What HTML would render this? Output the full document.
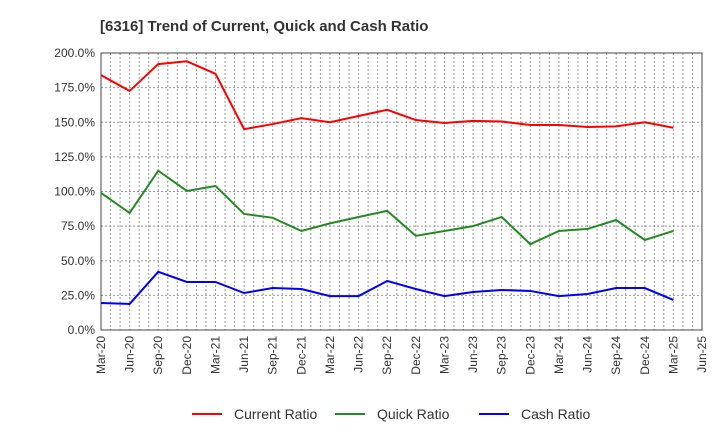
<!DOCTYPE html>
<html><head><meta charset="utf-8"><style>
body{margin:0;background:#fff;font-family:"Liberation Sans",sans-serif}
</style></head><body>
<svg id="chart" width="720" height="440" xmlns="http://www.w3.org/2000/svg" font-family="Liberation Sans, sans-serif">
<text x="100" y="31" font-size="15" font-weight="bold" fill="#333">[6316]  Trend of Current, Quick and Cash Ratio</text>
<g id="grid"></g><g id="axes"></g><g id="series"></g><g id="legend"></g>
</svg>
<script>
const xLabels=["Mar-20","Jun-20","Sep-20","Dec-20","Mar-21","Jun-21","Sep-21","Dec-21","Mar-22","Jun-22","Sep-22","Dec-22","Mar-23","Jun-23","Sep-23","Dec-23","Mar-24","Jun-24","Sep-24","Dec-24","Mar-25","Jun-25"];
const yTicks=[0,25,50,75,100,125,150,175,200];
const currentRatio=[184,172.6,192,194,185,145,148.7,153,150,154.5,159,151.6,149.5,151,150.5,148,148,146.6,147,150,146];
const quickRatio=[99,84.5,115,100.4,104,83.8,81,71.5,77,81.6,86,68,71.5,75,81.6,62,71.5,73,79.4,65,71.5];
const cashRatio=[19.5,18.8,42,34.7,34.7,26.7,30.3,29.6,24.5,24.5,35.4,29.6,24.5,27.4,28.9,28.2,24.5,26,30.3,30.3,21.7];
const L=101,R=702,T=53,B=330,NS="http://www.w3.org/2000/svg";
const months=63;
const xm=m=>L+(R-L)*m/months;
const xq=i=>xm(i*3);
const y=v=>B-(B-T)*v/200;
function mk(tag,attrs,parent){const e=document.createElementNS(NS,tag);for(const k in attrs)e.setAttribute(k,attrs[k]);document.getElementById(parent).appendChild(e);return e;}
for(let m=1;m<months;m++){const e=mk('line',{x1:xm(m),x2:xm(m),y1:T,y2:B,stroke:'#999','stroke-dasharray':'2,2','stroke-width':1},'grid');

}
yTicks.forEach(v=>{const g=mk('line',{x1:L,x2:R,y1:y(v),y2:y(v),stroke:'#999','stroke-dasharray':'2,2','stroke-width':1},'grid');


const t=mk('text',{x:L-6,y:y(v)+4,'text-anchor':'end','font-size':12,fill:'#333'},'axes');t.textContent=v.toFixed(1)+'%';

});
xLabels.forEach((s,i)=>{const x=xq(i);const t=mk('text',{x:0,y:0,'text-anchor':'end','font-size':12,fill:'#333',transform:`translate(${x+4},${B+6}) rotate(-90)`},'axes');t.textContent=s;

});
const frame=mk('rect',{x:L,y:T,width:R-L,height:B-T,fill:'none',stroke:'#444','stroke-width':1},'axes');


const series=[[currentRatio,'#ff0000','current-ratio-line','Current Ratio'],[quickRatio,'#228b22','quick-ratio-line','Quick Ratio'],[cashRatio,'#0000ff','cash-ratio-line','Cash Ratio']];
series.forEach(([d,c,n])=>{const p=mk('polyline',{points:d.map((v,i)=>xq(i)+','+y(v)).join(' '),fill:'none',stroke:c,'stroke-width':2},'series');

});
const lx=[192,335,479];
series.forEach(([d,c,n,label],i)=>{const l=mk('line',{x1:lx[i],x2:lx[i]+30,y1:414,y2:414,stroke:c,'stroke-width':2},'legend');


const t=mk('text',{x:lx[i]+42,y:419,'font-size':14,fill:'#333'},'legend');t.textContent=label;

});
</script>
</body></html>
